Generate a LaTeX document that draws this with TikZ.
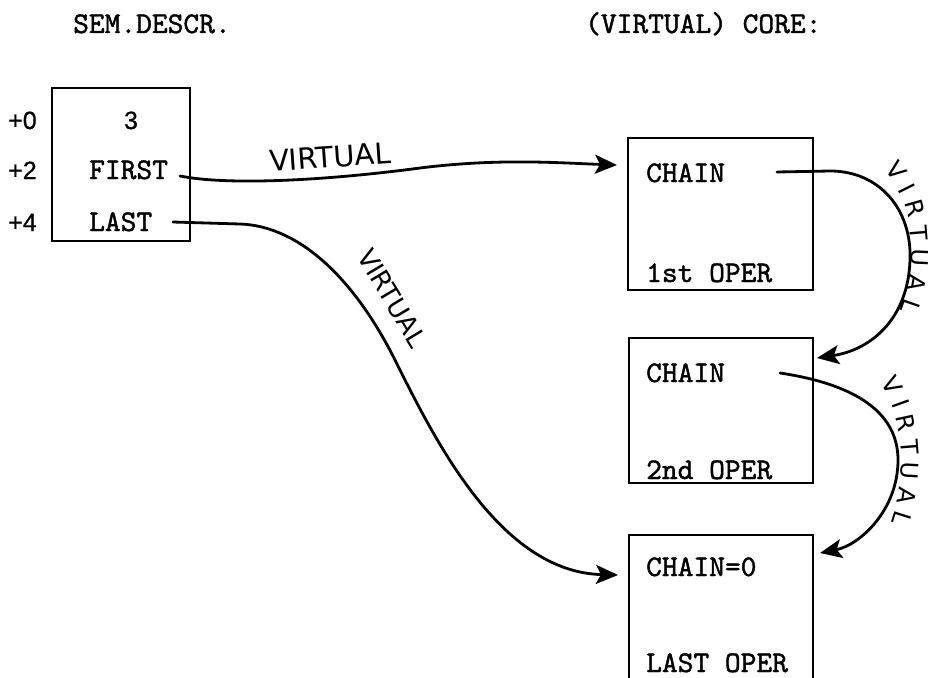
\documentclass[tikz,border=0pt]{standalone}
\usepackage{fontspec}
\usetikzlibrary{arrows.meta,decorations.text}
\newfontfamily\typew[FakeBold=1.4]{lmmono10-regular.otf}
\newfontfamily\handw{DejaVu Sans}
\newfontfamily\offs[FakeBold=0.8]{Liberation Sans}

\tikzset{
  cell/.style={draw, rectangle, line width=2.4pt, inner sep=0pt},
  tw/.style={font=\typew\fontsize{30}{30}\selectfont, inner sep=0pt, anchor=base west},
  offset/.style={font=\offs\fontsize{25}{25}\selectfont, inner sep=0pt, anchor=base west},
  hand/.style={font=\handw\fontsize{29}{29}\selectfont, inner sep=0pt},
  link/.style={line width=2.8pt, line cap=round,
    -{Stealth[length=22pt,width=19pt,inset=5pt]}},
  curvedlabel/.style={decorate, decoration={text along path,
    text align={fit to path},
    text={|\handw\fontsize{24}{24}\selectfont|VIRTUAL}}},
}

\begin{document}
\begin{tikzpicture}[x=1pt,y=-1pt]
\useasboundingbox (0,0) rectangle (928,677);

% headings
\node[tw] (hsem) at (73,33) {SEM.DESCR.};
\node[tw] (hcore) at (585,33) {(VIRTUAL) CORE:};

% semantic descriptor
\node[cell, minimum width=138pt, minimum height=153pt] (sem) at (121,164.5) {};
\node[offset] (o0) at (8,129) {+0};
\node[offset] (o2) at (8,179) {+2};
\node[offset] (o4) at (8,231) {+4};
\node[font=\offs\fontsize{25}{25}\selectfont, inner sep=0pt, anchor=base] (cnt) at (131,129) {3};
\node[tw] (first) at (89,179) {FIRST};
\node[tw] (last) at (89,231) {LAST};

% core operands
\node[cell, minimum width=185pt, minimum height=152pt] (op1) at (720.5,214) {};
\node[cell, minimum width=184pt, minimum height=145pt] (op2) at (721,410.5) {};
\node[cell, minimum width=184pt, minimum height=165pt] (op3) at (721,617.5) {};

\node[tw] (ch1) at (646,182) {CHAIN};
\node[tw] (nm1) at (646,282) {1st OPER};
\node[tw] (ch2) at (646,382) {CHAIN};
\node[tw] (nm2) at (646,479) {2nd OPER};
\node[tw] (ch3) at (646,576) {CHAIN=0};
\node[tw] (nm3) at (646,672) {LAST OPER};

% connector ends
\coordinate (sFirst) at (180,176);
\coordinate (eFirst) at (617,165);
\coordinate (sLast) at (173,222);
\coordinate (eLast) at (618,575);
\coordinate (sCh1) at (777,172);
\coordinate (eCh1) at (817,358);
\coordinate (sCh2) at (780,373);
\coordinate (eCh2) at (820,553);

% pointers
\draw[link] (sFirst) .. controls (230,186) and (330,180) .. (420,168)
  .. controls (500,158) and (560,163) .. (eFirst);
\draw[link] (sLast) -- (240,224) .. controls (300,226) and (355,280) .. (395,360)
  .. controls (435,440) and (500,572) .. (eLast);
\draw[link] (sCh1) -- (830,171) .. controls (880,171) and (912,210) .. (910,260)
  .. controls (908,320) and (870,350) .. (eCh1);
\draw[link] (sCh2) .. controls (860,385) and (898,415) .. (898,460)
  .. controls (898,510) and (860,545) .. (eCh2);

% pointer labels
\node[hand, rotate=4] (vFirst) at (330,157) {VIRTUAL};
\node[hand, rotate=-59, font=\handw\fontsize{26}{26}\selectfont] (vLast) at (392,298) {VIRTUAL};
\path[curvedlabel] (884,170) .. controls (902,190) and (911,215) .. (911,245)
  .. controls (911,270) and (908,290) .. (900,310);
\path[curvedlabel] (880,383) .. controls (896,405) and (902,440) .. (901,465)
  .. controls (900,490) and (897,505) .. (891,522);
\end{tikzpicture}
\end{document}
